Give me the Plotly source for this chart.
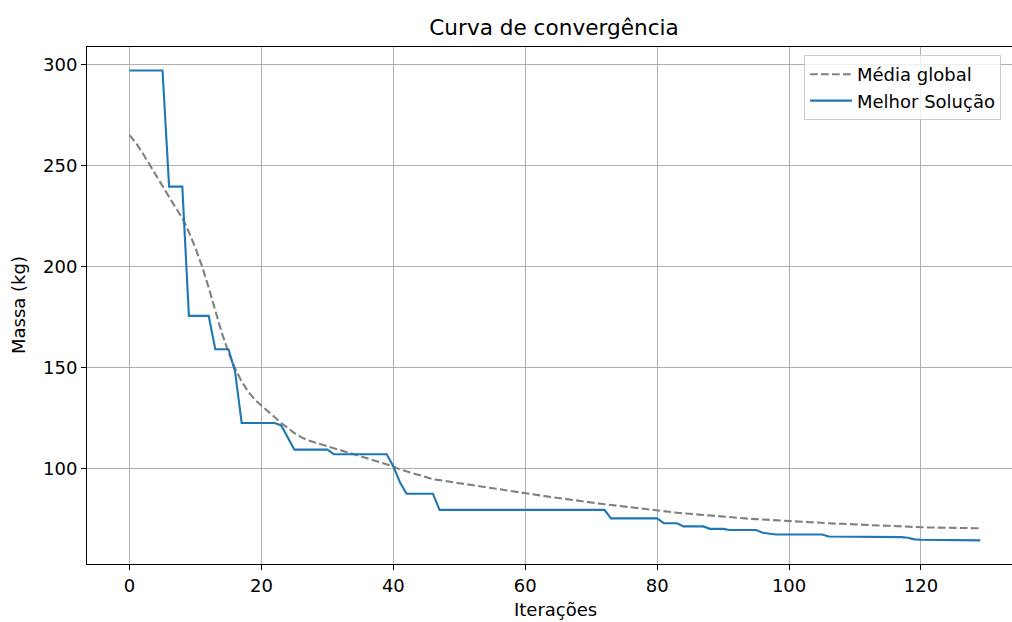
import plotly.graph_objects as go

# Iteration index for each recorded generation
iteracoes = list(range(130))

# Population mean mass per iteration (kg)
media_global = [
    265.0, 261.0, 256.0, 250.5, 245.0, 239.5, 234.0, 229.0, 224.0, 217.0,
    209.0, 200.0, 189.5, 178.0, 167.0, 157.5, 149.5, 143.0, 138.0, 134.0,
    131.0, 128.0, 125.0, 122.5, 120.0, 117.5, 115.5, 114.0, 113.0, 112.0,
    111.0, 110.0, 109.0, 108.0, 107.0, 106.0, 105.0, 104.0, 103.0, 102.0,
    101.0, 99.5, 98.5, 97.5, 96.5, 95.5, 94.7, 94.2, 93.8, 93.3,
    92.7, 92.2, 91.7, 91.2, 90.7, 90.1, 89.5, 89.0, 88.5, 88.0,
    87.5, 87.1, 86.7, 86.2, 85.8, 85.4, 84.9, 84.5, 84.1, 83.6,
    83.2, 82.7, 82.3, 81.9, 81.5, 81.1, 80.7, 80.3, 79.9, 79.5,
    79.0, 78.7, 78.4, 78.1, 77.8, 77.5, 77.2, 77.0, 76.7, 76.4,
    76.1, 75.8, 75.5, 75.3, 75.1, 74.9, 74.7, 74.4, 74.2, 74.0,
    73.8, 73.6, 73.5, 73.3, 73.2, 73.0, 72.9, 72.7, 72.6, 72.4,
    72.3, 72.2, 72.0, 71.9, 71.7, 71.6, 71.4, 71.3, 71.2, 71.0,
    70.9, 70.8, 70.8, 70.7, 70.6, 70.6, 70.5, 70.5, 70.4, 70.4,
]

# Best solution found so far per iteration (kg)
melhor_solucao = [
    297.0, 297.0, 297.0, 297.0, 297.0, 297.0, 239.5, 239.5, 239.5, 175.5,
    175.5, 175.5, 175.5, 159.0, 159.0, 159.0, 148.0, 122.5, 122.5, 122.5,
    122.5, 122.5, 122.5, 121.3, 115.3, 109.3, 109.3, 109.3, 109.3, 109.3,
    109.3, 107.0, 107.0, 107.0, 107.0, 107.0, 107.0, 107.0, 107.0, 107.0,
    101.0, 93.2, 87.5, 87.5, 87.5, 87.5, 87.5, 79.5, 79.5, 79.5,
    79.5, 79.5, 79.5, 79.5, 79.5, 79.5, 79.5, 79.5, 79.5, 79.5,
    79.5, 79.5, 79.5, 79.5, 79.5, 79.5, 79.5, 79.5, 79.5, 79.5,
    79.5, 79.5, 79.5, 75.3, 75.3, 75.3, 75.3, 75.3, 75.3, 75.3,
    75.3, 72.9, 72.9, 72.9, 71.3, 71.3, 71.3, 71.3, 70.1, 70.1,
    70.1, 69.5, 69.5, 69.5, 69.5, 69.5, 68.2, 67.6, 67.3, 67.3,
    67.3, 67.3, 67.3, 67.3, 67.3, 67.3, 66.3, 66.3, 66.3, 66.3,
    66.3, 66.3, 66.3, 66.0, 66.0, 66.0, 66.0, 66.0, 65.7, 64.9,
    64.7, 64.7, 64.7, 64.7, 64.7, 64.4, 64.4, 64.4, 64.4, 64.4,
]

x_ticks = [0, 20, 40, 60, 80, 100, 120]
y_ticks = [100, 150, 200, 250, 300]

FONT = "DejaVu Sans"
BASE = 18
W, H = 1012, 622
ML, MR, MT, MB = 87, 0, 47, 58
PW, PH = W - ML - MR, H - MT - MB


def px_to_paper_x(px):
    return (px - ML) / PW


def px_to_paper_y(py):
    return (H - MB - py) / PH


fig = go.Figure()

fig.add_trace(go.Scatter(
    x=iteracoes, y=media_global, mode="lines", name="Média global",
    line=dict(color="#808080", width=2.1, dash="7.7px,3.3px"),
))
fig.add_trace(go.Scatter(
    x=iteracoes, y=melhor_solucao, mode="lines", name="Melhor Solução",
    line=dict(color="#1f77b4", width=2.1),
))

axis_common = dict(
    showline=True, linecolor="black", linewidth=1.1, mirror=True,
    ticks="outside", ticklen=5, tickwidth=1.1, tickcolor="black",
    showgrid=True, gridcolor="#b0b0b0", gridwidth=1.1,
    zeroline=False,
    tickfont=dict(family=FONT, size=BASE, color="black"),
)

fig.update_layout(
    width=W, height=H,
    margin=dict(l=ML, r=MR, t=MT, b=MB, pad=0),
    paper_bgcolor="white", plot_bgcolor="white",
    font=dict(family=FONT, size=BASE, color="black"),
    title=dict(
        text="Curva de convergência",
        font=dict(family=FONT, size=21.6, color="black"),
        x=554 / W, xref="container", xanchor="center",
        y=1 - 27 / H, yref="container", yanchor="middle",
    ),
    xaxis=dict(range=[-6.45, 133.8], tickvals=x_ticks, **axis_common),
    yaxis=dict(range=[52.7, 308.6], tickvals=y_ticks, **axis_common),
    legend=dict(
        x=px_to_paper_x(804), y=px_to_paper_y(55),
        xanchor="left", yanchor="top",
        bgcolor="rgba(255,255,255,0.8)",
        bordercolor="#cccccc", borderwidth=1,
        itemwidth=42,
        font=dict(family=FONT, size=BASE, color="black"),
    ),
    showlegend=True,
    annotations=[
        dict(text="Iterações", xref="paper", yref="paper",
             x=px_to_paper_x(555), y=px_to_paper_y(609),
             xanchor="center", yanchor="middle", showarrow=False,
             font=dict(family=FONT, size=BASE, color="black")),
        dict(text="Massa (kg)", xref="paper", yref="paper",
             x=px_to_paper_x(18), y=px_to_paper_y(305),
             xanchor="center", yanchor="middle", showarrow=False,
             textangle=-90,
             font=dict(family=FONT, size=BASE, color="black")),
    ],
)

fig.write_html("out.html")
